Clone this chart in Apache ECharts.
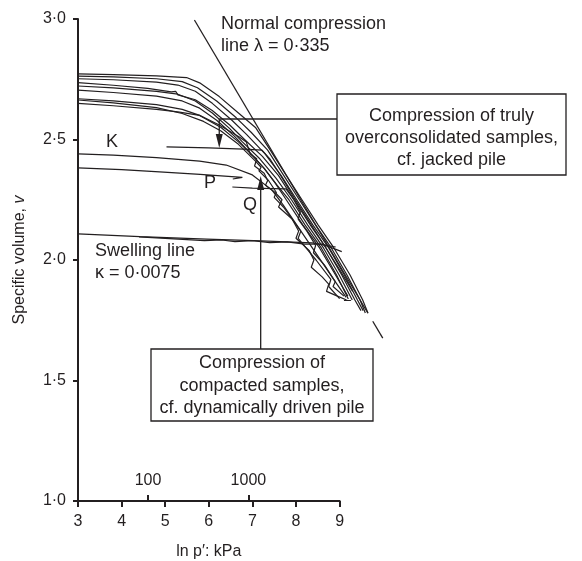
<!DOCTYPE html>
<html><head><meta charset="utf-8">
<script src="https://cdn.jsdelivr.net/npm/echarts@6/dist/echarts.min.js"></script>
<style>html,body{margin:0;padding:0;background:#fff}#c{width:582px;height:561px}</style>
</head><body><div id="c"></div>
<script>
// ---- axis ticks ----
const xTicks = [3, 4, 5, 6, 7, 8, 9];
const yTicks = [1.0, 1.5, 2.0, 2.5, 3.0];
const pressureTicks = [100, 1000];

// ---- normal compression line (ln p', v) ----
const nclSolid = [[5.67, 2.996], [9.65, 1.779]];
const nclDash = [[9.76, 1.746], [9.99, 1.676]];

// ---- compression curves (ln p', v) ----
const curveA = [[3,2.772],[3.81,2.769],[4.8,2.764],[5.49,2.757],[5.79,2.735],[6.24,2.678],[6.68,2.61],[7.07,2.55],[7.41,2.456],[7.77,2.353],[8.14,2.249],[8.51,2.145],[8.87,2.05],[9.24,1.938],[9.53,1.834],[9.65,1.78]];
const curveB = [[3,2.763],[3.81,2.76],[4.8,2.752],[5.39,2.74],[5.74,2.715],[6.18,2.66],[6.63,2.59],[6.97,2.53],[7.35,2.456],[7.71,2.353],[8.08,2.249],[8.45,2.145],[8.81,2.05],[9.17,1.938],[9.47,1.834],[9.59,1.78]];
const curveC = [[3,2.752],[3.81,2.748],[4.8,2.738],[5.29,2.726],[5.69,2.70],[6.08,2.65],[6.53,2.58],[6.87,2.52],[7.29,2.44],[7.66,2.35],[8.02,2.249],[8.39,2.145],[8.75,2.05],[9.11,1.938],[9.41,1.834],[9.54,1.79]];
const curveD = [[3,2.736],[3.81,2.725],[4.6,2.712],[5.14,2.698],[5.24,2.70],[5.29,2.685],[5.69,2.665],[6.08,2.62],[6.48,2.56],[6.82,2.50],[7.23,2.43],[7.6,2.35],[7.96,2.249],[8.33,2.145],[8.69,2.05],[9.05,1.938],[9.35,1.834],[9.49,1.79]];
const curveE = [[3,2.722],[3.81,2.714],[4.8,2.70],[5.29,2.688],[5.69,2.66],[6.08,2.61],[6.48,2.545],[6.77,2.49],[7.17,2.42],[7.54,2.34],[7.90,2.249],[8.27,2.145],[8.63,2.05],[8.99,1.938],[9.29,1.834]];
const curveF = [[3,2.705],[3.81,2.695],[4.8,2.68],[5.39,2.66],[5.79,2.63],[6.18,2.58],[6.58,2.515],[6.92,2.45],[7.27,2.38],[7.57,2.31],[7.84,2.249],[8.21,2.145],[8.58,2.05],[8.93,1.938],[9.2,1.838]];
const curveG = [[3,2.669],[3.81,2.66],[4.8,2.645],[5.39,2.625],[5.79,2.60],[6.28,2.55],[6.68,2.49],[6.97,2.44],[7.27,2.38],[7.52,2.32],[7.78,2.249],[8.16,2.145],[8.54,2.05],[8.9,1.94],[9.19,1.85]];
const curveH = [[3,2.664],[3.81,2.652],[4.8,2.632],[5.39,2.608],[5.88,2.575],[6.28,2.535],[6.68,2.48],[7.07,2.41],[7.2,2.385],[7.15,2.37],[7.37,2.33],[7.55,2.28],[7.5,2.26],[7.71,2.22],[8.11,2.12],[8.05,2.09],[8.46,2.0],[8.8,1.92],[8.75,1.89],[9.0,1.84]];
const curveI = [[3,2.65],[3.81,2.64],[4.8,2.625],[5.29,2.615],[5.79,2.60],[6.24,2.56],[6.7,2.51],[6.86,2.49],[6.95,2.44],[7.1,2.42],[7.05,2.39],[7.27,2.36],[7.35,2.33],[7.3,2.31],[7.52,2.28],[7.68,2.25],[7.6,2.22],[7.91,2.17],[8.06,2.12],[8.0,2.09],[8.3,2.04],[8.41,2.0],[8.35,1.97],[8.6,1.93],[8.75,1.9],[8.7,1.87],[8.95,1.85],[9.16,1.834]];
const curveK = [[3,2.44],[3.81,2.435],[4.8,2.425],[5.79,2.41],[6.4,2.394],[7.0,2.353],[7.45,2.29],[7.7,2.23],[8.0,2.15],[8.3,2.07],[8.6,1.99],[8.9,1.91],[9.15,1.845]];
const curveKshort = [[5.03,2.469],[6.0,2.465],[6.8,2.46],[7.22,2.456],[7.4,2.42],[7.65,2.35],[7.95,2.26],[8.3,2.16],[8.65,2.06],[9.0,1.96],[9.3,1.87]];
const curveP = [[3,2.382],[4,2.375],[4.87,2.366],[5.8,2.355],[6.77,2.343],[6.55,2.336]];
const curveQ = [[6.54,2.303],[7.0,2.298],[7.5,2.296],[7.77,2.295],[7.95,2.25],[8.1,2.2],[8.05,2.17],[8.25,2.12],[8.45,2.06],[8.4,2.03],[8.65,1.98],[8.9,1.91],[8.85,1.89],[9.1,1.85]];
const endTick = [[9.1,1.832],[9.26,1.832]];

// ---- swelling lines ----
const swell1 = [[3,2.108],[4.42,2.097],[5.95,2.087],[7.2,2.079],[8.37,2.071],[8.91,2.054]];
const swell2 = [[4.4,2.096],[5.2,2.088],[5.9,2.08],[6.3,2.083],[6.6,2.076],[7.0,2.08],[7.4,2.072],[7.8,2.075],[8.2,2.066],[8.6,2.066],[9.05,2.035]];

// ---- annotation anchors (ln p', v) ----
const arrowDown = [[6.24, 2.585], [6.24, 2.465]];
const arrowUp = [[7.19, 1.631], [7.19, 2.349]];

const INK = '#231f20';
const FONT = '"Liberation Sans", Arial, sans-serif';
const chart = echarts.init(document.getElementById('c'));

function curve(data, extra) {
  return Object.assign({
    type: 'line', data: data, xAxisIndex: 0, yAxisIndex: 0, symbol: 'none',
    silent: true, animation: false, z: 3,
    lineStyle: { color: INK, width: 1.2 }
  }, extra || {});
}

const curves = [curveA, curveB, curveC, curveD, curveE, curveF, curveG, curveH, curveI,
  curveK, curveKshort, curveP, curveQ, endTick, swell1, swell2];

const series = curves.map(d => curve(d));
series.push(curve(nclSolid, { lineStyle: { color: INK, width: 1.3 } }));
series.push(curve(nclDash, { lineStyle: { color: INK, width: 1.3 } }));

const txt = { color: INK, fontFamily: FONT };

chart.setOption({
  animation: false,
  backgroundColor: '#fff',
  grid: [
    { left: 78, top: 19, width: 327, height: 482, containLabel: false, outerBoundsMode: 'none' },
    { left: 78, top: 19, width: 261.6, height: 482, containLabel: false, outerBoundsMode: 'none' }
  ],
  xAxis: [
    { gridIndex: 0, type: 'value', min: 3, max: 10.5, show: false },
    { gridIndex: 1, type: 'value', min: xTicks[0], max: xTicks[xTicks.length - 1], interval: 1,
      axisLine: { lineStyle: { color: INK, width: 2 } },
      axisTick: { length: 6, lineStyle: { color: INK, width: 2 } },
      axisLabel: Object.assign({ fontSize: 16, margin: 13 }, txt),
      splitLine: { show: false },
      name: 'ln p′: kPa', nameLocation: 'middle', nameGap: 43,
      nameTextStyle: Object.assign({ fontSize: 16 }, txt) },
    { gridIndex: 1, type: 'value', min: 3, max: 9, position: 'bottom',
      axisLine: { show: false },
      axisTick: { show: true, inside: true, length: 6, customValues: pressureTicks.map(Math.log), lineStyle: { color: INK, width: 2 } },
      axisLabel: Object.assign({ inside: true, fontSize: 16, margin: 12, customValues: pressureTicks.map(Math.log),
        formatter: v => String(Math.round(Math.exp(v))) }, txt),
      splitLine: { show: false } }
  ],
  yAxis: [
    { gridIndex: 0, type: 'value', min: 1, max: 3, show: false },
    { gridIndex: 1, type: 'value', min: yTicks[0], max: yTicks[yTicks.length - 1], interval: 0.5,
      axisLine: { show: true, lineStyle: { color: INK, width: 2 } },
      axisTick: { show: true, length: 5, lineStyle: { color: INK, width: 2 } },
      axisLabel: Object.assign({ fontSize: 16, margin: 12, formatter: v => v.toFixed(1).replace('.', '·') }, txt),
      splitLine: { show: false },
      name: 'Specific volume, {i|v}', nameLocation: 'middle', nameGap: 50, nameRotate: 90,
      nameTextStyle: Object.assign({ fontSize: 16, rich: { i: { fontStyle: 'italic', fontSize: 16, fontFamily: FONT, color: INK } } }, txt) }
  ],
  series: series
});

function px(p) { return chart.convertToPixel({ xAxisIndex: 0, yAxisIndex: 0 }, p); }
const dTop = px(arrowDown[0]), dTip = px(arrowDown[1]);
const uBase = px(arrowUp[0]), uTip = px(arrowUp[1]);
const box1 = { x: 337, y: 94, w: 229, h: 81 };
const box2 = { x: 151, y: 349, w: 222, h: 72 };
const LW = 1.3;

function label(text, x, y, align, size) {
  return { type: 'text', x: x, y: y, z: 10, silent: true,
    style: { text: text, fill: INK, font: (size || 18) + 'px ' + FONT, align: align || 'left', verticalAlign: 'middle' } };
}
function seg(x1, y1, x2, y2) {
  return { type: 'line', z: 10, silent: true, shape: { x1, y1, x2, y2 }, style: { stroke: INK, lineWidth: LW } };
}
function head(x, tipY, dir) {
  const L = 14, W = 3.5;
  return { type: 'polygon', z: 10, silent: true,
    shape: { points: [[x - W, tipY - dir * L], [x + W, tipY - dir * L], [x, tipY]] },
    style: { fill: INK } };
}

chart.setOption({
  graphic: [
    label('Normal compression', 221, 24),
    label('line λ = 0·335', 221, 46),
    label('Swelling line', 95, 251),
    label('κ = 0·0075', 95, 273),
    label('K', 112, 142, 'center'),
    label('P', 210, 183, 'center'),
    label('Q', 250, 205, 'center'),
    { type: 'rect', z: 10, silent: true, shape: { x: box1.x, y: box1.y, width: box1.w, height: box1.h }, style: { fill: '#fff', stroke: INK, lineWidth: LW } },
    label('Compression of truly', box1.x + box1.w / 2, 116, 'center'),
    label('overconsolidated samples,', box1.x + box1.w / 2, 138, 'center'),
    label('cf. jacked pile', box1.x + box1.w / 2, 160, 'center'),
    { type: 'rect', z: 10, silent: true, shape: { x: box2.x, y: box2.y, width: box2.w, height: box2.h }, style: { fill: '#fff', stroke: INK, lineWidth: LW } },
    label('Compression of', box2.x + box2.w / 2, 363, 'center'),
    label('compacted samples,', box2.x + box2.w / 2, 386, 'center'),
    label('cf. dynamically driven pile', box2.x + box2.w / 2, 408, 'center'),
    seg(dTop[0], dTop[1], box1.x, dTop[1]),
    seg(dTop[0], dTop[1], dTip[0], dTip[1] - 10),
    head(dTip[0], dTip[1], 1),
    seg(uBase[0], box2.y, uTip[0], uTip[1] + 10),
    head(uTip[0], uTip[1], -1)
  ]
});
</script></body></html>
